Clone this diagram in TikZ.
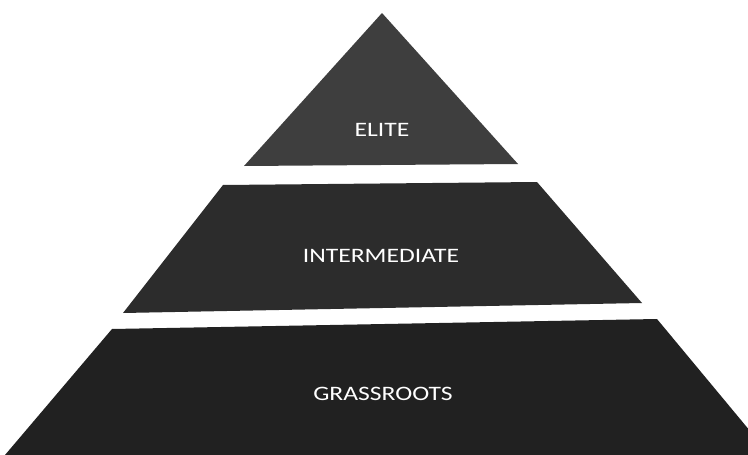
\documentclass[tikz,border=0pt]{standalone}
\usepackage{fontspec}
\setmainfont{Carlito}
\usepackage{graphicx}
\definecolor{elitec}{HTML}{3E3E3E}
\definecolor{midc}{HTML}{2C2C2C}
\definecolor{basec}{HTML}{212121}
\begin{document}
\begin{tikzpicture}[x=1pt,y=-1pt,
  tier/.style={draw=none},
  lbl/.style={text=white, inner sep=0pt, font=\fontsize{20.5}{24}\selectfont}]
\useasboundingbox (0,0) rectangle (748,455);
\fill[white] (0,0) rectangle (748,455);
\begin{scope}
\clip (0,0) rectangle (748,455);
\fill[elitec, tier] (382,13) -- (518,164) -- (244,166) -- cycle;
\fill[midc, tier] (223,185) -- (537,182) -- (642,303) -- (123,313) -- cycle;
\fill[basec, tier] (112,329) -- (657,319) -- (770,455) -- (5,455) -- cycle;
\end{scope}
\node[lbl] (elite) at (382,130) {\scalebox{1.25}[1]{ELITE}};
\node[lbl] (inter) at (381,256) {\scalebox{1.25}[1]{INTERMEDIATE}};
\node[lbl] (grass) at (383,394) {\scalebox{1.25}[1]{GRASSROOTS}};
\end{tikzpicture}
\end{document}
